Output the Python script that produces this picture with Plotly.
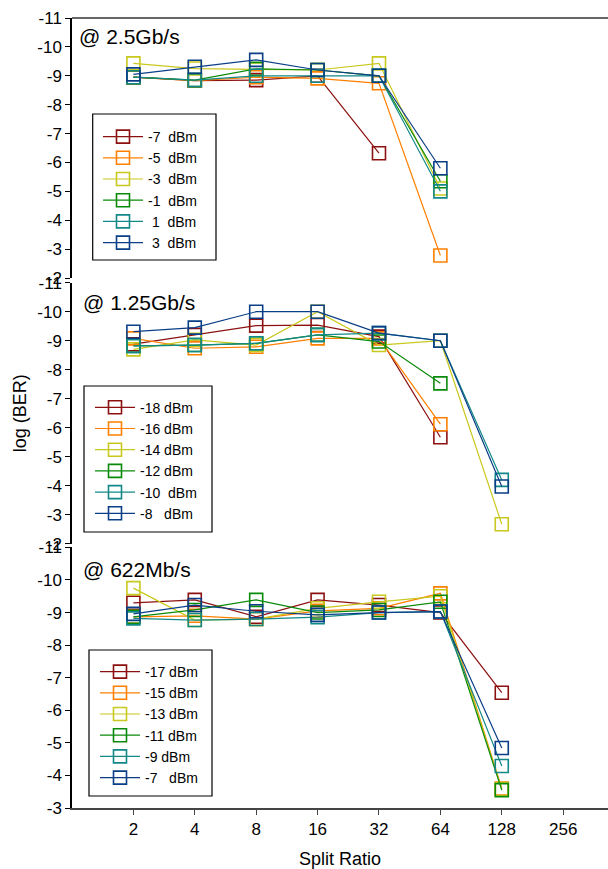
import math
import plotly.graph_objects as go

# ---------------- data ----------------
split_all = [2, 4, 8, 16, 32, 64, 128]
tick_ratios = [2, 4, 8, 16, 32, 64, 128, 256]
tick_text = ["2", "4", "8", "16", "32", "64", "128", "256"]

colors = ["#8C1010", "#FF8000", "#C8C81E", "#0A8A0A", "#138888", "#0A3F88"]

# @ 2.5Gb/s
names_25 = ["-7  dBm", "-5  dBm", "-3  dBm", "-1  dBm", " 1  dBm", " 3  dBm"]
ber25_m7 = [-8.95, -8.83, -8.85, -9.0, -6.32]
ber25_m5 = [-8.95, -8.83, -8.95, -8.91, -8.74, -2.78]
ber25_m3 = [-9.43, -9.25, -9.22, -9.2, -9.43, -5.1]
ber25_m1 = [-8.95, -8.85, -9.24, -9.2, -9.0, -5.35]
ber25_p1 = [-8.95, -8.85, -9.0, -9.0, -9.0, -5.0]
ber25_p3 = [-9.05, -9.31, -9.55, -9.2, -9.0, -5.8]

# @ 1.25Gb/s
names_125 = ["-18 dBm", "-16 dBm", "-14 dBm", "-12 dBm", "-10  dBm", "-8   dBm"]
ber125_m18 = [-8.88, -9.2, -9.52, -9.54, -9.14, -5.67]
ber125_m16 = [-9.08, -8.74, -8.79, -9.08, -9.08, -6.12]
ber125_m14 = [-8.7, -9.03, -8.85, -10.0, -8.85, -9.0, -2.67]
ber125_m12 = [-8.82, -8.85, -8.91, -9.2, -8.97, -7.53]
ber125_m10 = [-8.82, -8.85, -8.91, -9.2, -9.26, -9.0, -4.2]
ber125_m8 = [-9.31, -9.45, -10.0, -10.0, -9.26, -9.0, -3.97]

# @ 622Mb/s
names_622 = ["-17 dBm", "-15 dBm", "-13 dBm", "-11 dBm", "-9 dBm", "-7   dBm"]
ber622_m17 = [-9.3, -9.39, -8.87, -9.39, -9.23, -9.0, -6.54]
ber622_m15 = [-8.87, -8.9, -8.8, -9.05, -9.13, -9.59, -3.6]
ber622_m13 = [-9.75, -8.77, -8.8, -9.13, -9.33, -9.5, -3.58]
ber622_m11 = [-8.87, -9.08, -9.39, -9.0, -9.08, -9.33, -3.55]
ber622_m9 = [-8.82, -8.77, -8.8, -8.86, -9.0, -9.03, -4.29]
ber622_m7 = [-8.96, -9.23, -9.04, -8.93, -9.0, -9.03, -4.84]

panel_titles = ["@ 2.5Gb/s", "@ 1.25Gb/s", "@ 622Mb/s"]

# ---------------- figure ----------------
FONT = "Liberation Sans, Arial, sans-serif"
fig = go.Figure()

def add_series(series, names, yaxis, legend):
    for ys, name, col in zip(series, names, colors):
        fig.add_trace(go.Scatter(
            x=split_all[:len(ys)], y=ys, name=name, mode="lines+markers",
            xaxis="x", yaxis=yaxis, legend=legend,
            line=dict(color=col, width=1.2),
            marker=dict(symbol="square-open", size=13, color=col,
                        line=dict(width=1.6, color=col)),
        ))

add_series([ber25_m7, ber25_m5, ber25_m3, ber25_m1, ber25_p1, ber25_p3],
           names_25, "y3", "legend")
add_series([ber125_m18, ber125_m16, ber125_m14, ber125_m12, ber125_m10, ber125_m8],
           names_125, "y2", "legend2")
add_series([ber622_m17, ber622_m15, ber622_m13, ber622_m11, ber622_m9, ber622_m7],
           names_622, "y", "legend3")

W, H = 608, 869
ML, MR, MT, MB = 72, 0, 18, 61
PW, PH = W - ML - MR, H - MT - MB

def py(pix):  # pixel y -> paper y
    return (H - MB - pix) / PH

def px(pix):  # pixel x -> paper x
    return (pix - ML) / PW

x_right = math.log10(2 ** 8.73)

yax_common = dict(
    showline=True, linecolor="black", linewidth=1.5,
    ticks="outside", ticklen=5, tickcolor="black", tickwidth=1,
    showgrid=False, zeroline=False,
    tickfont=dict(family=FONT, size=17, color="black"),
    anchor="x",
)

legend_common = dict(
    bgcolor="rgba(0,0,0,0)", borderwidth=0,
    font=dict(family=FONT, size=14, color="black"),
    xanchor="left", yanchor="top", tracegroupgap=0, itemwidth=40,
)

# legend frames (pixel boxes: x0, y0, x1, y1)
frames = [(92.7, 114, 216, 260), (84, 386, 212, 532), (89, 650, 212, 796)]
shapes = [dict(type="line", xref="paper", yref="paper", x0=0, x1=1, y0=1, y1=1,
               line=dict(color="#333333", width=1.5))]
for (x0, y0, x1, y1) in frames:
    shapes.append(dict(type="rect", xref="paper", yref="paper", layer="above",
                       x0=px(x0), x1=px(x1), y0=py(y1), y1=py(y0),
                       fillcolor="white", line=dict(color="black", width=1.2)))

fig.update_layout(
    width=W, height=H,
    margin=dict(l=ML, r=MR, t=MT, b=MB, pad=0),
    paper_bgcolor="white", plot_bgcolor="white",
    showlegend=True,
    xaxis=dict(
        type="log", range=[0, x_right],
        tickvals=tick_ratios, ticktext=tick_text,
        showline=True, linecolor="#444444", linewidth=1.5,
        ticks="outside", ticklen=5, tickcolor="#444444",
        showgrid=False, zeroline=False, anchor="y",
        tickfont=dict(family=FONT, size=17, color="black"),
        title=dict(text="Split Ratio", font=dict(family=FONT, size=18, color="black"),
                   standoff=15),
    ),
    yaxis=dict(domain=[0, py(547.4)], range=[-3, -11],
               tickvals=list(range(-11, -2)), ticktext=[str(v) for v in range(-11, -2)],
               **yax_common),
    yaxis2=dict(domain=[py(543.7), py(282.7)], range=[-2, -11],
                tickvals=list(range(-11, -1)), ticktext=[str(v) for v in range(-11, -1)],
                title=dict(text="log (BER)", font=dict(family=FONT, size=18, color="black"),
                           standoff=6),
                **yax_common),
    yaxis3=dict(domain=[py(278), 1], range=[-2, -11],
                tickvals=list(range(-11, -1)), ticktext=[str(v) for v in range(-11, -1)],
                **yax_common),
    legend=dict(x=px(98), y=py(121), **legend_common),
    legend2=dict(x=px(90), y=py(391.7), **legend_common),
    legend3=dict(x=px(95), y=py(656), **legend_common),
    shapes=shapes,
)

title_pos = [(77, 23), (81, 289), (81, 556)]
for t, (tx, ty) in zip(panel_titles, title_pos):
    fig.add_annotation(text=t, xref="paper", yref="paper", x=px(tx), y=py(ty),
                       xanchor="left", yanchor="top", showarrow=False,
                       font=dict(family=FONT, size=21, color="black"))

fig.write_html("out.html")
